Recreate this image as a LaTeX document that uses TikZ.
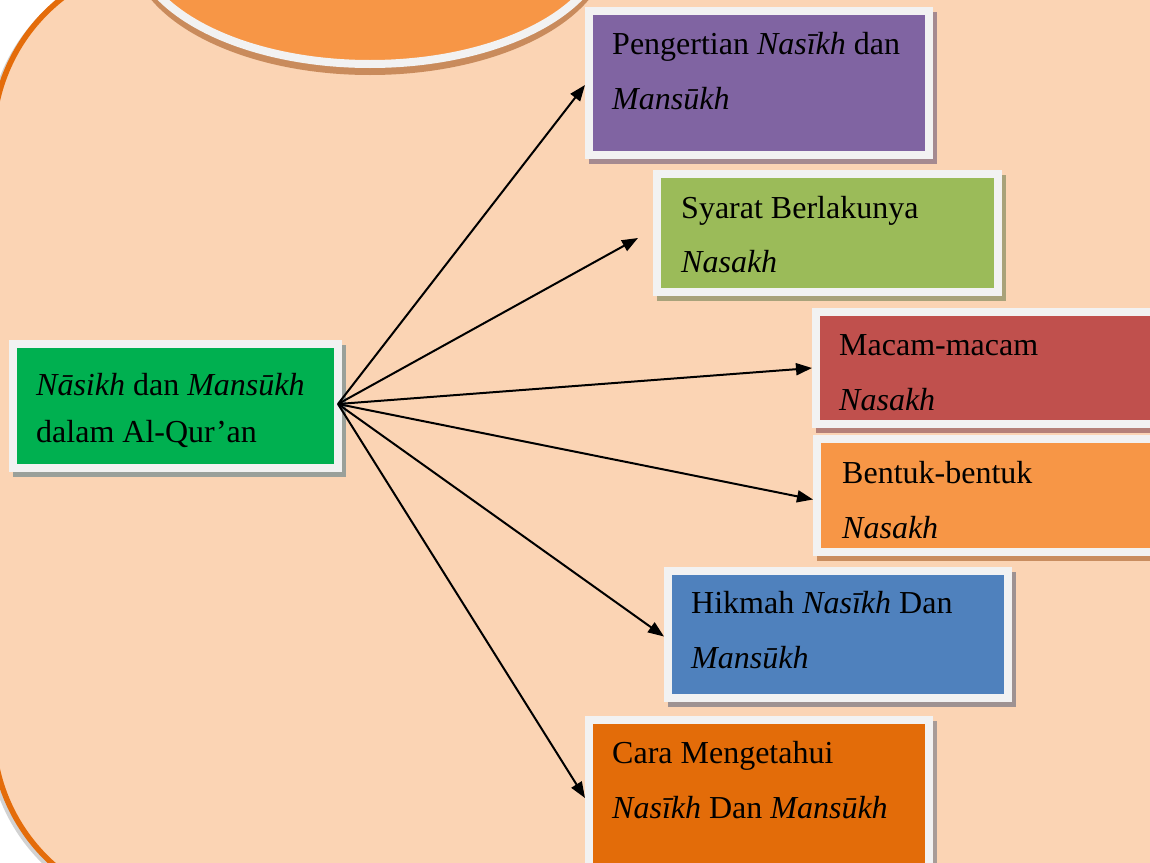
\documentclass[tikz,border=0pt]{standalone}
\usepackage{fontspec}
\setmainfont{Liberation Serif}
\usetikzlibrary{arrows.meta,calc}
\definecolor{peach}{HTML}{FBD4B4}
\definecolor{frameorange}{HTML}{E46C0A}
\definecolor{ellorange}{HTML}{F79646}
\definecolor{ellshadow}{HTML}{C98B5C}
\definecolor{boxwhite}{HTML}{F2F2F2}
\definecolor{cgreen}{HTML}{00B050}
\definecolor{cpurple}{HTML}{8064A2}
\definecolor{colive}{HTML}{9BBB59}
\definecolor{cred}{HTML}{C0504D}
\definecolor{corange}{HTML}{F79646}
\definecolor{cblue}{HTML}{4F81BD}
\definecolor{cdark}{HTML}{E36C09}
\definecolor{sgreen}{HTML}{9AA09A}
\definecolor{spurple}{HTML}{A58A90}
\definecolor{solive}{HTML}{A8A27A}
\definecolor{sred}{HTML}{B58078}
\definecolor{sorange}{HTML}{C98D5F}
\definecolor{sblue}{HTML}{9E9292}
\definecolor{sdark}{HTML}{A89C98}
\tikzset{
  x=1pt, y=-1pt,
  boxstyle/.style 2 args={rectangle, draw=boxwhite, line width=8pt, fill=#1,
    inner sep=0pt,
    preaction={draw=#2, fill=#2, line width=8pt,
      transform canvas={shift={(3.5pt,-5pt)}}}},
  txt/.style={anchor=base west, inner sep=0pt, font=\fontsize{32}{40}\selectfont},
  conn/.style={draw=black, line width=2pt, -{Triangle[length=16pt,width=12pt]}}
}
\begin{document}
\begin{tikzpicture}
\useasboundingbox (0,0) rectangle (1150,862);
\clip (0,0) rectangle (1150,862);
% background frame
\draw[line width=5pt, gray!35, rounded corners=180pt] (-10,-37) rectangle (1400,913);
\draw[line width=5.5pt, draw=frameorange, fill=peach, rounded corners=180pt] (-7,-40) rectangle (1400,910);
% title ellipse
\fill[ellshadow] (370,-53) ellipse [x radius=240, y radius=128];
\draw[draw=boxwhite, fill=ellorange, line width=8pt] (370,-60) ellipse [x radius=236, y radius=124];
% boxes
\node[boxstyle={cgreen}{sgreen}, minimum width=325pt, minimum height=124pt] (green) at (175.5,406) {};
\node[boxstyle={cpurple}{spurple}, minimum width=340pt, minimum height=144pt] (purple) at (759,83) {};
\node[boxstyle={colive}{solive}, minimum width=341pt, minimum height=118pt] (syarat) at (827.5,233) {};
\node[boxstyle={cred}{sred}, minimum width=350pt, minimum height=112pt] (macam) at (991,368) {};
\node[boxstyle={corange}{sorange}, minimum width=349pt, minimum height=113pt] (bentuk) at (991.5,495.5) {};
\node[boxstyle={cblue}{sblue}, minimum width=340pt, minimum height=127pt] (hikmah) at (838,634.5) {};
\node[boxstyle={cdark}{sdark}, minimum width=340pt, minimum height=176pt] (cara) at (759,808) {};
% texts
\node[txt] (t1a) at (36,395) {\textit{Nāsikh} dan \textit{Mansūkh}};
\node[txt] (t1b) at (36,442) {dalam Al-Qur’an};
\node[txt] (t2a) at (612,54) {Pengertian \textit{Nasīkh} dan};
\node[txt] (t2b) at (612,109) {\textit{Mansūkh}};
\node[txt] (t3a) at (681,218) {Syarat Berlakunya};
\node[txt] (t3b) at (681,272) {\textit{Nasakh}};
\node[txt] (t4a) at (839,355) {Macam-macam};
\node[txt] (t4b) at (839,410) {\textit{Nasakh}};
\node[txt] (t5a) at (842,483) {Bentuk-bentuk};
\node[txt] (t5b) at (842,538) {\textit{Nasakh}};
\node[txt] (t6a) at (691,613) {Hikmah \textit{Nasīkh} Dan};
\node[txt] (t6b) at (691,668) {\textit{Mansūkh}};
\node[txt] (t7a) at (612,763) {Cara Mengetahui};
\node[txt] (t7b) at (612,818) {\textit{Nasīkh} Dan \textit{Mansūkh}};
% connectors
\coordinate (src) at ([xshift=-4pt,yshift=2pt]green.east);
\coordinate (syaratend) at (638,238);
\draw[conn] (src) -- ([yshift=-2pt]purple.west);
\draw[conn] (src) -- (syaratend);
\draw[conn] (src) -- (macam.west);
\draw[conn] (src) -- ([yshift=-4pt]bentuk.west);
\draw[conn] (src) -- ([yshift=-2pt]hikmah.west);
\draw[conn] (src) -- ([yshift=10pt]cara.west);
\end{tikzpicture}
\end{document}
